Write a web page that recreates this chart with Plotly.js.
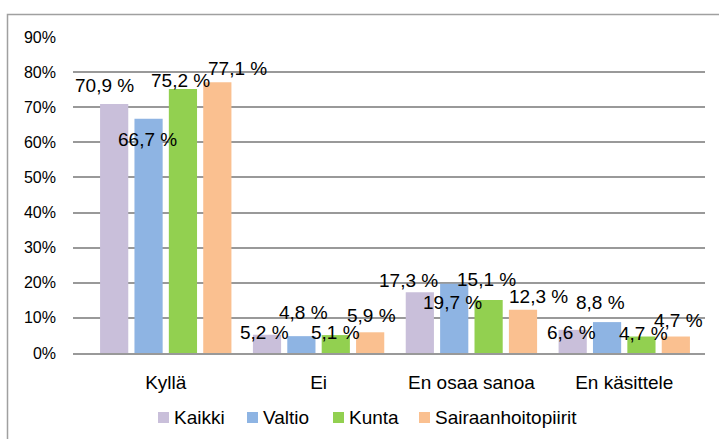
<!DOCTYPE html>
<html>
<head>
<meta charset="utf-8">
<script src="https://cdn.plot.ly/plotly-3.0.1.min.js"></script>
<style>
  html, body { margin: 0; padding: 0; background: #fff; }
  #chart { width: 719px; height: 439px; }
</style>
</head>
<body>
<div id="chart"></div>
<script>
// ---- data ----
const categories = ['Kyllä', 'Ei', 'En osaa sanoa', 'En käsittele'];
const seriesNames = ['Kaikki', 'Valtio', 'Kunta', 'Sairaanhoitopiirit'];
const kaikki = [70.9, 5.2, 17.3, 6.6];
const valtio = [66.7, 4.8, 19.7, 8.8];
const kunta = [75.2, 5.1, 15.1, 4.7];
const sairaanhoitopiirit = [77.1, 5.9, 12.3, 4.7];
const tickValues = [0, 10, 20, 30, 40, 50, 60, 70, 80, 90];

// ---- styling ----
const colors = ['#C9BFDA', '#8EB4E3', '#92D050', '#FAC090'];
const FONT = 'Arial, "Liberation Sans", sans-serif';
const W = 719, H = 439;
const M = { l: 73, r: 14, t: 37, b: 86 };
const PW = W - M.l - M.r, PH = H - M.t - M.b;
// manual label placement (px offsets from bar top centre: [dx, dy up])
const labelOffsets = [
  [[-8, 19], [-1, 2], [-10, 12], [0, -3]],
  [[-1, -21], [3, 24], [-1, -19], [-6, 20]],
  [[-3, 8], [-1, 3], [-3, 20], [1, 3]],
  [[18, 14], [0, 17], [14, 13], [1, 16]]
];
const slotPx = 35.5;
// manual legend: marker left edge x (px), marker centre y (px)
const legendMarkerX = [158, 247, 333, 419];
const legendY = 417.5;
const legendMarkerSize = 11;

const allSeries = [kaikki, valtio, kunta, sairaanhoitopiirit];

const traces = allSeries.map((vals, i) => ({
  type: 'bar',
  name: seriesNames[i],
  x: categories,
  y: vals,
  marker: { color: colors[i] },
  hoverinfo: 'none',
  showlegend: false
}));

const px2x = p => (p - M.l) / PW;
const py2y = p => (H - M.b - p) / PH;

const annotations = [];
allSeries.forEach((vals, i) => {
  vals.forEach((v, j) => {
    const off = labelOffsets[i][j];
    annotations.push({
      x: categories[j],
      y: v,
      xref: 'x', yref: 'y',
      text: v.toFixed(1).replace('.', ',') + ' %',
      showarrow: false,
      xanchor: 'center', yanchor: 'middle',
      xshift: (i - 1.5) * slotPx + off[0],
      yshift: off[1],
      font: { family: FONT, size: 19, color: '#000' }
    });
  });
});

const shapes = [{
  type: 'rect', xref: 'paper', yref: 'paper',
  x0: px2x(7.5), x1: px2x(760), y0: py2y(480), y1: py2y(14.5),
  line: { color: '#A0A0A0', width: 1.5 },
  fillcolor: 'rgba(0,0,0,0)',
  layer: 'below'
}];

seriesNames.forEach((name, i) => {
  const mx = legendMarkerX[i];
  shapes.push({
    type: 'rect', xref: 'paper', yref: 'paper',
    x0: px2x(mx), x1: px2x(mx + legendMarkerSize),
    y0: py2y(legendY + legendMarkerSize / 2), y1: py2y(legendY - legendMarkerSize / 2),
    line: { width: 0 },
    fillcolor: colors[i]
  });
  annotations.push({
    x: px2x(mx + legendMarkerSize + 3), y: py2y(legendY),
    xref: 'paper', yref: 'paper',
    xanchor: 'left', yanchor: 'middle',
    text: name, showarrow: false,
    font: { family: FONT, size: 19, color: '#000' }
  });
});

const layout = {
  width: W, height: H,
  margin: M,
  paper_bgcolor: '#fff', plot_bgcolor: '#fff',
  barmode: 'group',
  bargap: 0.1,
  bargroupgap: 0.18,
  showlegend: false,
  xaxis: {
    type: 'category',
    automargin: false,
    showgrid: false,
    showline: true, linecolor: '#999999', linewidth: 2,
    ticks: '',
    ticklabelstandoff: 11,
    tickfont: { family: FONT, size: 19, color: '#000' },
    fixedrange: true
  },
  yaxis: {
    automargin: false,
    range: [0, 90],
    tickvals: tickValues,
    ticktext: tickValues.map(t => t + '%'),
    showgrid: true, gridcolor: '#999999', gridwidth: 2,
    zeroline: false,
    showline: false,
    ticks: '',
    ticklabelstandoff: 16,
    tickfont: { family: FONT, size: 16, color: '#000' },
    fixedrange: true
  },
  annotations: annotations,
  shapes: shapes
};

Plotly.newPlot('chart', traces, layout, { displayModeBar: false, staticPlot: true });
</script>
</body>
</html>
